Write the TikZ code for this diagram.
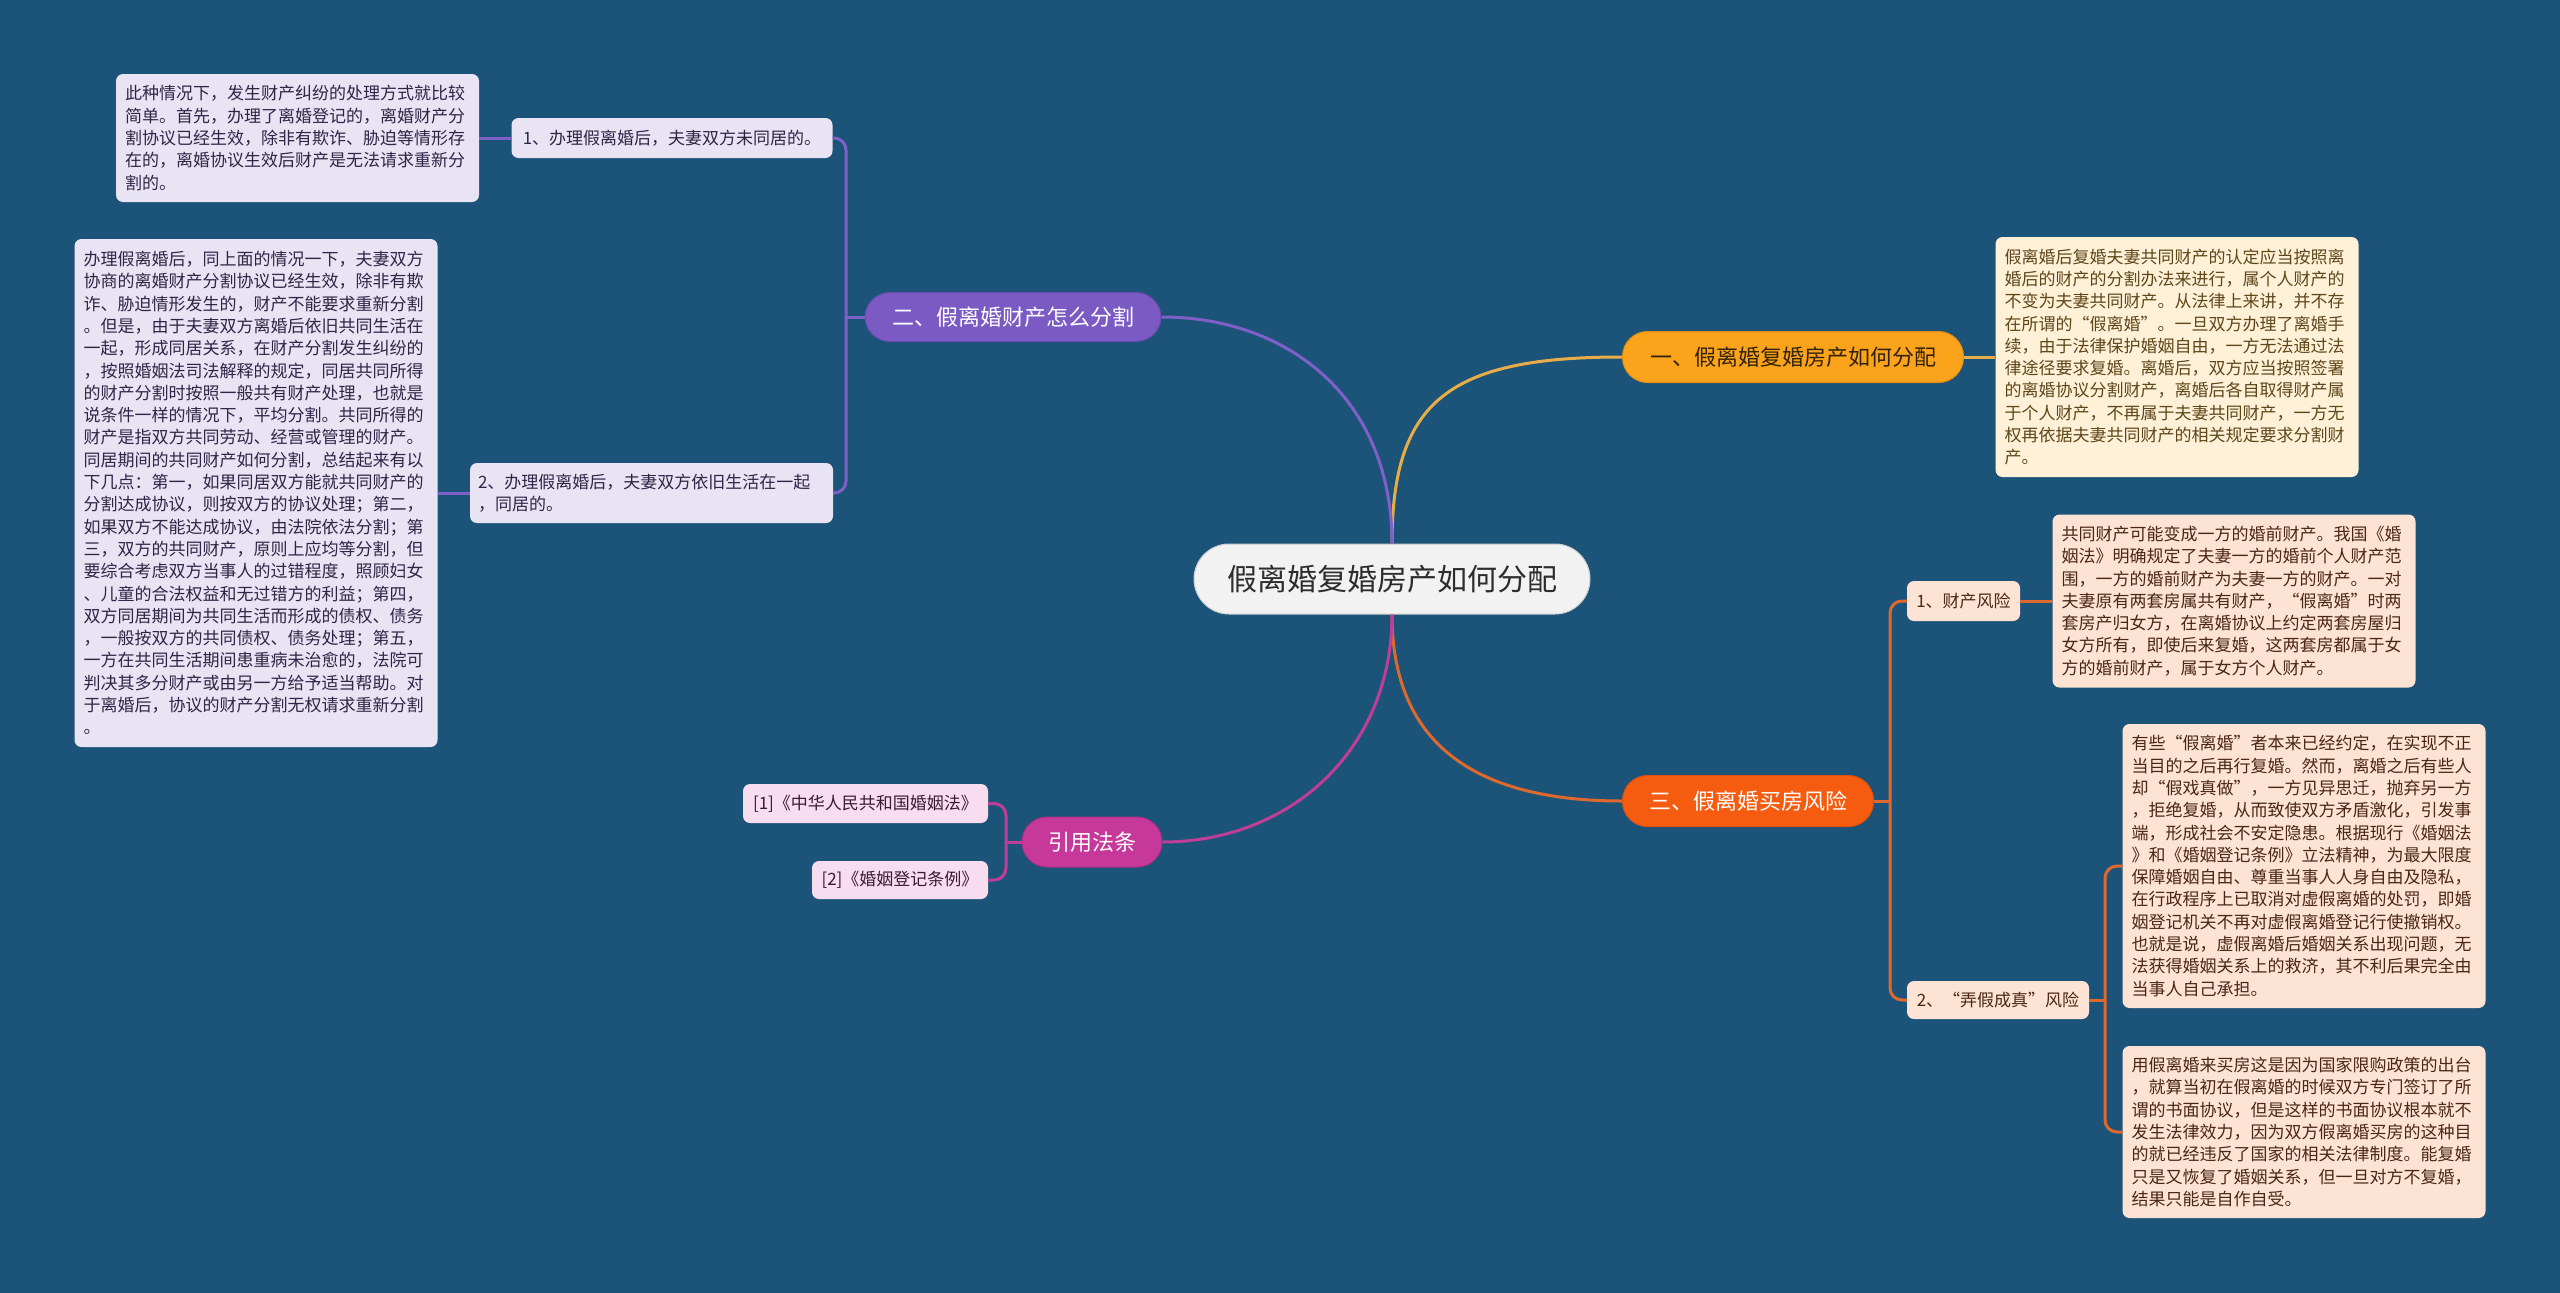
\documentclass[tikz,border=0pt]{standalone}
\usepackage{fontspec}
\setmainfont{Noto Sans CJK SC}
\usepackage{xcolor}
\usepackage{tikz}

\definecolor{bgblue}{RGB}{27,84,120}
\definecolor{rootfill}{RGB}{242,242,242}
\definecolor{rootline}{RGB}{200,205,210}
\definecolor{roottext}{RGB}{45,45,45}
\definecolor{b1fill}{RGB}{250,163,27}
\definecolor{b1line}{RGB}{225,140,20}
\definecolor{b1text}{RGB}{50,35,10}
\definecolor{b1wire}{RGB}{232,172,72}
\definecolor{b1leaf}{RGB}{254,241,216}
\definecolor{b1ink}{RGB}{95,70,25}
\definecolor{b2fill}{RGB}{124,90,196}
\definecolor{b2line}{RGB}{105,75,175}
\definecolor{b2wire}{RGB}{126,96,200}
\definecolor{b2leaf}{RGB}{232,228,243}
\definecolor{b2ink}{RGB}{45,38,70}
\definecolor{b3fill}{RGB}{246,92,16}
\definecolor{b3line}{RGB}{225,80,10}
\definecolor{b3wire}{RGB}{222,104,46}
\definecolor{b3leaf}{RGB}{253,227,212}
\definecolor{b3ink}{RGB}{75,38,20}
\definecolor{b4fill}{RGB}{198,57,154}
\definecolor{b4line}{RGB}{175,45,135}
\definecolor{b4wire}{RGB}{192,62,152}
\definecolor{b4leaf}{RGB}{247,221,239}
\definecolor{b4ink}{RGB}{60,25,50}

\begin{document}
\begin{tikzpicture}[
    x=1pt, y=-1pt,
    rootbox/.style={rectangle, rounded corners=35pt, fill=rootfill, draw=rootline, line width=1pt, text=roottext, font=\fontsize{30}{36}\selectfont, minimum width=396pt, minimum height=70pt},
    branchbox/.style={rectangle, rounded corners=25pt, line width=1pt, inner sep=0pt, minimum height=51pt, font=\fontsize{22}{26}\selectfont},
    leafbox/.style={rectangle, rounded corners=7pt, inner sep=0pt, font=\fontsize{17}{22.3}\selectfont},
    notebox/.style={rectangle, rounded corners=7pt, align=left, text width=345pt, inner xsep=9pt, inner ysep=0pt, font=\fontsize{17}{22.3}\selectfont},
    link/.style={line width=3pt},
    elbow/.style={line width=3pt, rounded corners=12pt}
]
    \fill[bgblue] (0,0) rectangle (2560,1293);
    \useasboundingbox (0,0) rectangle (2560,1293);

    \node [rootbox] (root) at (1392,579) {假离婚复婚房产如何分配};

    \node [branchbox, fill=b1fill, draw=b1line, text=b1text, minimum width=341pt] (b1) at (1793,357) {一、假离婚复婚房产如何分配};
    \node [branchbox, fill=b2fill, draw=b2line, text=white, minimum width=296pt, minimum height=49pt] (b2) at (1013,317) {二、假离婚财产怎么分割};
    \node [branchbox, fill=b3fill, draw=b3line, text=white, minimum width=251pt] (b3) at (1748,801) {三、假离婚买房风险};
    \node [branchbox, fill=b4fill, draw=b4line, text=white, minimum width=140pt, minimum height=50pt] (b4) at (1092,842) {引用法条};

    \node [notebox, fill=b1leaf, text=b1ink, minimum height=240pt] (n1) at (2177,357) {假离婚后复婚夫妻共同财产的认定应当按照离\\
        婚后的财产的分割办法来进行，属个人财产的\\
        不变为夫妻共同财产。从法律上来讲，并不存\\
        在所谓的“假离婚”。一旦双方办理了离婚手\\
        续，由于法律保护婚姻自由，一方无法通过法\\
        律途径要求复婚。离婚后，双方应当按照签署\\
        的离婚协议分割财产，离婚后各自取得财产属\\
        于个人财产，不再属于夫妻共同财产，一方无\\
        权再依据夫妻共同财产的相关规定要求分割财\\
        产。};

    \node [leafbox, fill=b2leaf, text=b2ink, minimum width=321pt, minimum height=40pt] (l21) at (672,138) {1、办理假离婚后，夫妻双方未同居的。};
    \node [leafbox, fill=b2leaf, text=b2ink, minimum width=363pt, minimum height=60pt, align=left, text width=347pt, inner xsep=8pt] (l22) at (651.5,493) {2、办理假离婚后，夫妻双方依旧生活在一起\\，同居的。};

    \node [notebox, fill=b2leaf, text=b2ink, minimum height=128pt] (n21) at (297.5,138) {此种情况下，发生财产纠纷的处理方式就比较\\
        简单。首先，办理了离婚登记的，离婚财产分\\
        割协议已经生效，除非有欺诈、胁迫等情形存\\
        在的，离婚协议生效后财产是无法请求重新分\\
        割的。};
    \node [notebox, fill=b2leaf, text=b2ink, minimum height=508pt] (n22) at (256,493) {办理假离婚后，同上面的情况一下，夫妻双方\\
        协商的离婚财产分割协议已经生效，除非有欺\\
        诈、胁迫情形发生的，财产不能要求重新分割\\
        。但是，由于夫妻双方离婚后依旧共同生活在\\
        一起，形成同居关系，在财产分割发生纠纷的\\
        ，按照婚姻法司法解释的规定，同居共同所得\\
        的财产分割时按照一般共有财产处理，也就是\\
        说条件一样的情况下，平均分割。共同所得的\\
        财产是指双方共同劳动、经营或管理的财产。\\
        同居期间的共同财产如何分割，总结起来有以\\
        下几点：第一，如果同居双方能就共同财产的\\
        分割达成协议，则按双方的协议处理；第二，\\
        如果双方不能达成协议，由法院依法分割；第\\
        三，双方的共同财产，原则上应均等分割，但\\
        要综合考虑双方当事人的过错程度，照顾妇女\\
        、儿童的合法权益和无过错方的利益；第四，\\
        双方同居期间为共同生活而形成的债权、债务\\
        ，一般按双方的共同债权、债务处理；第五，\\
        一方在共同生活期间患重病未治愈的，法院可\\
        判决其多分财产或由另一方给予适当帮助。对\\
        于离婚后，协议的财产分割无权请求重新分割\\
        。};

    \node [leafbox, fill=b3leaf, text=b3ink, minimum width=113pt, minimum height=40pt] (l31) at (1963.5,601) {1、财产风险};
    \node [leafbox, fill=b3leaf, text=b3ink, minimum width=182pt, minimum height=38pt] (l32) at (1998,1000) {2、“弄假成真”风险};

    \node [notebox, fill=b3leaf, text=b3ink, minimum height=173pt] (n31) at (2234,601) {共同财产可能变成一方的婚前财产。我国《婚\\
        姻法》明确规定了夫妻一方的婚前个人财产范\\
        围，一方的婚前财产为夫妻一方的财产。一对\\
        夫妻原有两套房属共有财产，“假离婚”时两\\
        套房产归女方，在离婚协议上约定两套房屋归\\
        女方所有，即使后来复婚，这两套房都属于女\\
        方的婚前财产，属于女方个人财产。};
    \node [notebox, fill=b3leaf, text=b3ink, minimum height=284pt] (n32a) at (2304,866) {有些“假离婚”者本来已经约定，在实现不正\\
        当目的之后再行复婚。然而，离婚之后有些人\\
        却“假戏真做”，一方见异思迁，抛弃另一方\\
        ，拒绝复婚，从而致使双方矛盾激化，引发事\\
        端，形成社会不安定隐患。根据现行《婚姻法\\
        》和《婚姻登记条例》立法精神，为最大限度\\
        保障婚姻自由、尊重当事人人身自由及隐私，\\
        在行政程序上已取消对虚假离婚的处罚，即婚\\
        姻登记机关不再对虚假离婚登记行使撤销权。\\
        也就是说，虚假离婚后婚姻关系出现问题，无\\
        法获得婚姻关系上的救济，其不利后果完全由\\
        当事人自己承担。};
    \node [notebox, fill=b3leaf, text=b3ink, minimum height=172pt] (n32b) at (2304,1132) {用假离婚来买房这是因为国家限购政策的出台\\
        ，就算当初在假离婚的时候双方专门签订了所\\
        谓的书面协议，但是这样的书面协议根本就不\\
        发生法律效力，因为双方假离婚买房的这种目\\
        的就已经违反了国家的相关法律制度。能复婚\\
        只是又恢复了婚姻关系，但一旦对方不复婚，\\
        结果只能是自作自受。};

    \node [leafbox, fill=b4leaf, text=b4ink, minimum width=245pt, minimum height=39pt] (l41) at (865.5,803.5) {[1]《中华人民共和国婚姻法》};
    \node [leafbox, fill=b4leaf, text=b4ink, minimum width=176pt, minimum height=38pt] (l42) at (900,880) {[2]《婚姻登记条例》};

    \draw [link, draw=b1wire] (root.north) .. controls (1392,400) and (1450,357) .. (b1.west);
    \draw [link, draw=b2wire] (root.north) .. controls (1392,400) and (1290,317) .. (b2.east);
    \draw [link, draw=b3wire] (root.south) .. controls (1392,740) and (1470,801) .. (b3.west);
    \draw [link, draw=b4wire] (root.south) .. controls (1392,750) and (1290,842) .. (b4.east);

    \draw [link, draw=b1wire] (b1.east) -- (n1.west);

    \coordinate (j2) at (846,317);
    \draw [link, draw=b2wire] (b2.west) -- (j2);
    \draw [elbow, draw=b2wire] (j2) |- (l21.east);
    \draw [elbow, draw=b2wire] (j2) |- (l22.east);
    \draw [link, draw=b2wire] (l21.west) -- (n21.east);
    \draw [link, draw=b2wire] (l22.west) -- (n22.east);

    \coordinate (j3) at (1890,801);
    \draw [link, draw=b3wire] (b3.east) -- (j3);
    \draw [elbow, draw=b3wire] (j3) |- (l31.west);
    \draw [elbow, draw=b3wire] (j3) |- (l32.west);
    \draw [link, draw=b3wire] (l31.east) -- (n31.west);

    \coordinate (j32) at (2105,1000);
    \draw [link, draw=b3wire] (l32.east) -- (j32);
    \draw [elbow, draw=b3wire] (j32) |- (n32a.west);
    \draw [elbow, draw=b3wire] (j32) |- (n32b.west);

    \coordinate (j4) at (1006,842);
    \draw [link, draw=b4wire] (b4.west) -- (j4);
    \draw [elbow, draw=b4wire] (j4) |- (l41.east);
    \draw [elbow, draw=b4wire] (j4) |- (l42.east);
\end{tikzpicture}
\end{document}
